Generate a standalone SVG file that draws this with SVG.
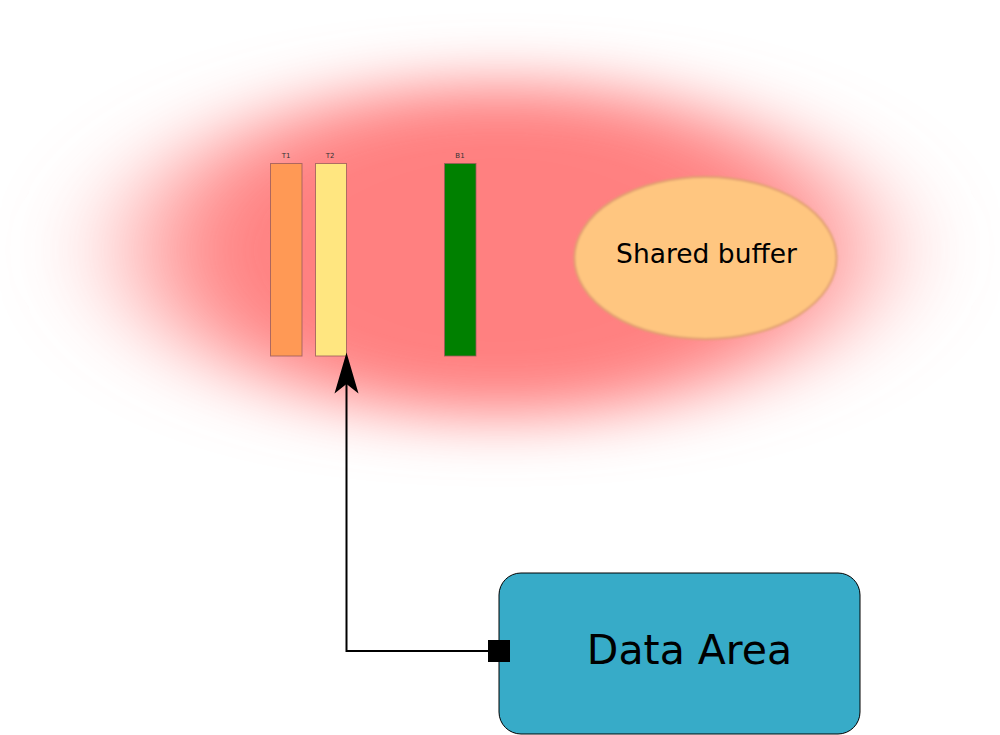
<svg xmlns="http://www.w3.org/2000/svg" width="1000" height="735" viewBox="0 0 1000 735">
<style>
.bar{stroke:#9a5a5a;stroke-opacity:0.8;stroke-width:1}
.lbl{font-family:"DejaVu Sans",sans-serif;font-size:7px;fill:#333;text-anchor:middle}
.big{font-family:"DejaVu Sans",sans-serif;fill:#000;text-anchor:middle}
.conn{fill:none;stroke:#000;stroke-width:2}
</style>
<defs>
<filter id="blur" filterUnits="userSpaceOnUse" x="-200" y="-200" width="1400" height="1100">
<feGaussianBlur stdDeviation="65 30"/>
</filter>
<filter id="soft" x="-10%" y="-10%" width="120%" height="120%">
<feGaussianBlur stdDeviation="1"/>
</filter>
</defs>
<rect width="1000" height="735" fill="#fff"/>
<g id="zone">
<ellipse cx="500" cy="250" rx="355" ry="167" fill="#ff8080" filter="url(#blur)"/>
</g>
<g id="T1">
<rect class="bar" x="270.5" y="163.5" width="31.5" height="192.5" fill="#ff9955"/>
<text class="lbl" x="286" y="158">T1</text>
</g>
<g id="T2">
<rect class="bar" x="315.5" y="163.5" width="31" height="192.5" fill="#ffe680"/>
<text class="lbl" x="330" y="158">T2</text>
</g>
<g id="B1">
<rect class="bar" x="444.5" y="163.5" width="31.5" height="192.5" fill="#008000"/>
<text class="lbl" x="460" y="158">B1</text>
</g>
<g id="shared-buffer">
<ellipse cx="705.5" cy="258" rx="131" ry="81" fill="#ffc680" stroke="#e0a070" stroke-width="2" filter="url(#soft)"/>
<text class="big" x="706.5" y="263" font-size="26.5">Shared buffer</text>
</g>
<g id="data-area">
<rect x="499" y="573" width="361" height="161" rx="22" ry="22" fill="#37abc8" stroke="#000" stroke-width="1"/>
<text class="big" x="689.5" y="664" font-size="41">Data Area</text>
</g>
<g id="connectors">
<path class="conn" d="M488,651 H346.5 V380"/>
<path d="M346.5,352.5 L358.5,393.5 L346.5,384 L334.5,393.5 Z" fill="#000"/>
<rect x="488" y="640" width="22" height="22" fill="#000"/>
</g>
</svg>
